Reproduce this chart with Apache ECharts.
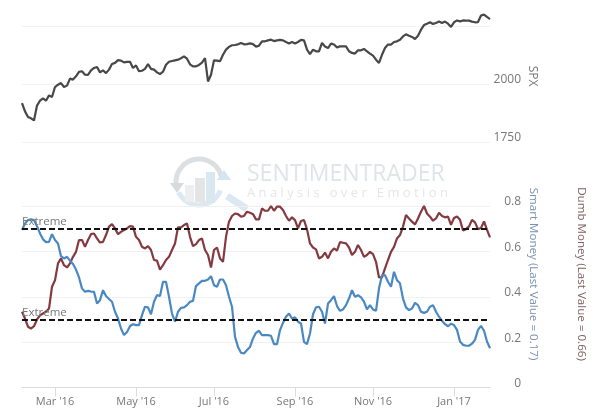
<!DOCTYPE html>
<html>
<head>
<meta charset="utf-8">
<style>html,body{margin:0;padding:0;background:#fff}#c{width:600px;height:420px}</style>
<script src="https://cdn.jsdelivr.net/npm/echarts@6/dist/echarts.min.js"></script>
</head>
<body>
<div id="c"></div>
<script>
const spx = [1918,1882,1858,1852,1843,1907,1928,1938,1928,1951,1944,1987,1997,2004,1987,1993,2023,2019,2033,2052,2055,2040,2039,2059,2069,2073,2050,2059,2047,2062,2086,2091,2103,2101,2093,2095,2096,2069,2080,2055,2057,2065,2086,2065,2062,2050,2043,2053,2083,2096,2099,2102,2105,2111,2119,2109,2085,2076,2076,2082,2092,2112,2011,2040,2102,2101,2098,2126,2148,2160,2167,2168,2171,2177,2171,2172,2175,2172,2161,2165,2184,2184,2188,2191,2185,2188,2190,2188,2181,2175,2181,2175,2181,2190,2188,2148,2129,2148,2141,2141,2177,2162,2155,2174,2170,2158,2162,2162,2162,2141,2134,2131,2145,2145,2151,2141,2131,2122,2105,2091,2126,2155,2170,2170,2181,2184,2191,2205,2214,2208,2203,2194,2208,2234,2254,2260,2266,2259,2263,2269,2263,2269,2260,2246,2266,2274,2270,2274,2273,2273,2269,2266,2267,2295,2299,2289,2280];
const dumbMoney = [.334,.304,.268,.260,.270,.300,.318,.326,.334,.348,.444,.473,.547,.569,.539,.529,.547,.576,.598,.650,.650,.620,.650,.676,.679,.657,.639,.642,.672,.709,.720,.701,.676,.686,.694,.701,.711,.709,.664,.650,.620,.613,.623,.606,.562,.559,.520,.539,.562,.576,.606,.635,.706,.706,.716,.723,.664,.623,.632,.650,.657,.606,.584,.529,.606,.617,.569,.554,.664,.731,.756,.767,.764,.753,.756,.775,.770,.764,.741,.741,.789,.779,.779,.800,.779,.797,.797,.782,.756,.735,.750,.738,.701,.734,.738,.697,.635,.617,.609,.569,.576,.595,.569,.598,.613,.603,.641,.638,.635,.617,.584,.598,.628,.606,.576,.584,.598,.588,.554,.485,.485,.525,.562,.598,.620,.657,.672,.709,.760,.745,.731,.719,.745,.775,.800,.767,.753,.735,.745,.770,.756,.750,.753,.717,.747,.754,.739,.692,.698,.710,.739,.728,.698,.703,.732,.695,.662];
const smartMoney = [.694,.723,.738,.741,.738,.711,.679,.653,.641,.642,.676,.650,.635,.579,.569,.576,.559,.544,.520,.485,.437,.422,.426,.423,.422,.370,.385,.429,.403,.390,.378,.334,.304,.260,.231,.245,.270,.279,.275,.275,.319,.356,.353,.323,.378,.407,.403,.466,.466,.400,.326,.290,.334,.351,.353,.363,.378,.382,.447,.459,.470,.470,.476,.491,.451,.444,.476,.476,.451,.400,.356,.223,.179,.153,.150,.165,.179,.216,.241,.250,.231,.231,.231,.228,.191,.191,.253,.285,.312,.326,.304,.309,.290,.282,.201,.191,.238,.323,.353,.356,.334,.282,.370,.385,.403,.359,.338,.344,.363,.392,.429,.400,.407,.397,.378,.344,.363,.344,.338,.437,.495,.495,.466,.444,.510,.473,.459,.392,.353,.341,.348,.373,.363,.334,.329,.334,.356,.363,.334,.312,.294,.279,.270,.281,.275,.254,.203,.188,.184,.184,.193,.210,.254,.272,.250,.203,.173];
const monthLabels = ["Mar '16","May '16","Jul '16","Sep '16","Nov '16","Jan '17"];
const monthIndexes = [11,38,64,91,117,144];
const extremeLevels = [0.7,0.3];
const spxTicks = [1750,2000,2250];

const categories = spx.map((_, i) => {
  const m = monthIndexes.indexOf(i);
  return m >= 0 ? monthLabels[m] : 'p' + i;
});
const isTick = (i) => monthIndexes.indexOf(i) >= 0;
const FONT = '"Open Sans", sans-serif';
const GRID = '#f0f0f0';

const chart = echarts.init(document.getElementById('c'), null, {renderer:'canvas'});
chart.setOption({
  animation:false,
  backgroundColor:'#fff',
  grid:[
    {left:22,width:468,top:26,height:116,containLabel:false},
    {left:22,width:468,top:206,height:181.5,containLabel:false}
  ],
  xAxis:[
    {type:'category',gridIndex:0,data:categories,boundaryGap:false,show:false},
    {type:'category',gridIndex:1,data:categories,boundaryGap:false,
      axisLine:{lineStyle:{color:'#dcdcdc',width:1}},
      axisTick:{show:true,length:9,interval:(i)=>isTick(i),lineStyle:{color:'#dcdcdc'}},
      axisLabel:{interval:(i)=>isTick(i),color:'#777',fontFamily:FONT,fontSize:11,margin:9},
      splitLine:{show:false}}
  ],
  yAxis:[
    {type:'value',gridIndex:0,position:'right',min:1750,max:2250,interval:250,
      axisLine:{show:false},axisTick:{show:false},
      splitLine:{lineStyle:{color:'#f2f2f2'}},
      axisLabel:{align:'right',margin:31,verticalAlign:'bottom',padding:[0,0,-2,0],color:'#777',fontFamily:FONT,fontSize:12,
        formatter:(v)=>v===2250?'':String(v)}},
    {type:'value',gridIndex:1,position:'right',min:0,max:0.8,interval:0.2,
      axisLine:{show:false},axisTick:{show:false},
      splitLine:{lineStyle:{color:GRID}},
      axisLabel:{align:'right',margin:31,verticalAlign:'bottom',padding:[0,0,-2,0],color:'#777',fontFamily:FONT,fontSize:12,
        formatter:(v)=>v===0?'0':v.toFixed(1)}}
  ],
  series:[
    {name:'SPX',type:'line',xAxisIndex:0,yAxisIndex:0,data:spx,showSymbol:false,clip:false,
      lineStyle:{color:'#484848',width:2.2},z:3},
    {name:'Dumb Money',type:'line',xAxisIndex:1,yAxisIndex:1,data:dumbMoney,showSymbol:false,clip:false,
      lineStyle:{color:'#833a40',width:2.2},z:3},
    {name:'Smart Money',type:'line',xAxisIndex:1,yAxisIndex:1,data:smartMoney,showSymbol:false,clip:false,
      lineStyle:{color:'#4a88c2',width:2.2},z:3,
      markLine:{silent:true,symbol:'none',animation:false,z:4,
        lineStyle:{color:'#111',type:[6,3],width:2},
        label:{show:true,position:'insideStartTop',formatter:'Extreme',color:'#777',fontFamily:FONT,fontSize:11.5,distance:[0,1]},
        data:extremeLevels.map(v=>({yAxis:v}))}}
  ],
  graphic:[
    // watermark logo
    {type:'arc',z:0,shape:{cx:199,cy:182,r:23,startAngle:Math.PI*0.98,endAngle:Math.PI*1.93},style:{fill:null,stroke:'#dcdfe1',lineWidth:5}},
    {type:'arc',z:0,shape:{cx:199,cy:182,r:23,startAngle:Math.PI*0.12,endAngle:Math.PI*0.85},style:{fill:null,stroke:'#dde9f2',lineWidth:5}},
    {type:'polygon',z:0,shape:{points:[[170,183],[184,183],[177,193]]},style:{fill:'#d8dbdd'}},
    {type:'polygon',z:0,shape:{points:[[217,180],[231,180],[224,170]]},style:{fill:'#d5e5f0'}},
    {type:'rect',z:0,shape:{x:185,y:185,width:9,height:17},style:{fill:'#eceeef'}},
    {type:'rect',z:0,shape:{x:195,y:178,width:10,height:24},style:{fill:'#e2e4e5'}},
    {type:'rect',z:0,shape:{x:206,y:172,width:9,height:31},style:{fill:'#d9e7f1'}},
    {type:'line',z:0,shape:{x1:227,y1:196,x2:247,y2:209},style:{stroke:'#dce8f1',lineWidth:7}},
    // watermark text
    {type:'text',z:0,left:247,top:163,style:{text:'SENTIMENTRADER',fill:'#dfe4e8',font:'400 23px "Open Sans", sans-serif'}},
    {type:'text',z:0,left:247,top:187,style:{text:'A n a l y s i s   o v e r   E m o t i o n',fill:'#e6e6e6',font:'400 13px "Open Sans", sans-serif'}},
    // axis titles
    {type:'text',z:1,x:532,y:76,rotation:-Math.PI/2,style:{text:'SPX',fill:'#777',font:'12px "Open Sans", sans-serif',align:'center',verticalAlign:'middle'}},
    {type:'text',z:1,x:533,y:274,rotation:-Math.PI/2,style:{text:'Smart Money (Last Value = 0.17)',fill:'#7a8fb3',font:'11.6px "Open Sans", sans-serif',align:'center',verticalAlign:'middle'}},
    {type:'text',z:1,x:581,y:274,rotation:-Math.PI/2,style:{text:'Dumb Money (Last Value = 0.66)',fill:'#7d6064',font:'11.6px "Open Sans", sans-serif',align:'center',verticalAlign:'middle'}}
  ]
});
</script>
</body>
</html>
